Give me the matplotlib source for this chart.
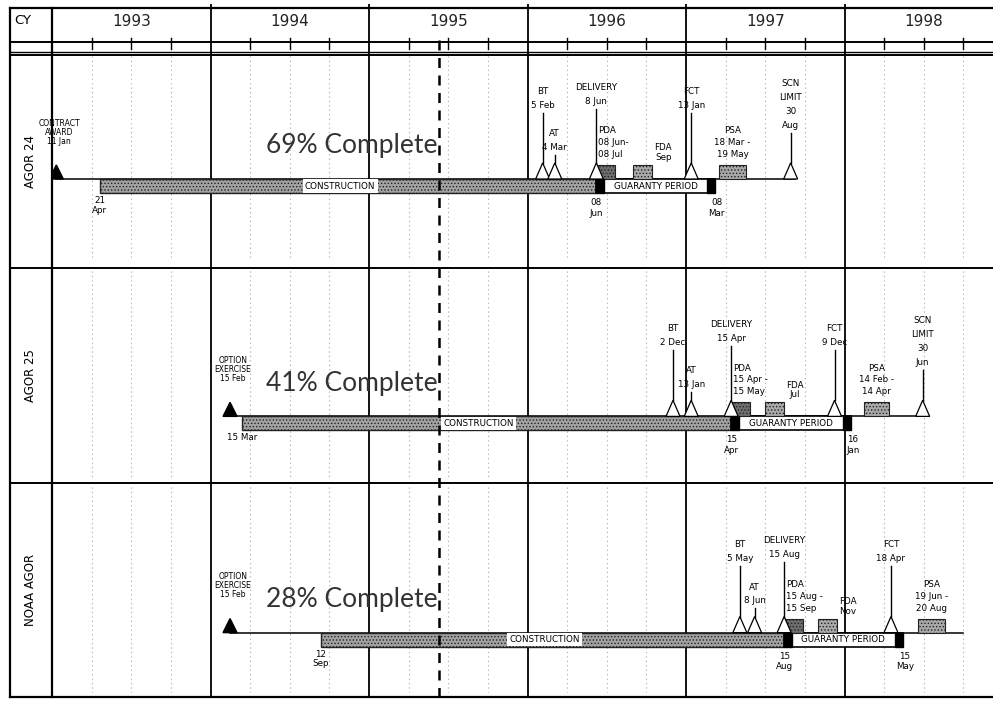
import matplotlib
matplotlib.use("Agg")
import matplotlib.pyplot as plt
import pandas as pd
from matplotlib.patches import Polygon, Rectangle

plt.rcParams['font.family'] = ['DejaVu Sans']
plt.rcParams['hatch.linewidth'] = 0.6

### schedule data
rows = ["AGOR 24", "AGOR 25", "NOAA AGOR"]
years = [1993, 1994, 1995, 1996, 1997, 1998]
pct_complete = [69, 41, 28]
status_date = "1995-06-12"

start_event = ["CONTRACT\nAWARD", "OPTION\nEXERCISE", "OPTION\nEXERCISE"]
start_date = ["1993-01-11", "1994-02-15", "1994-02-15"]
constr_start = ["1993-04-21", "1994-03-15", "1994-09-12"]
constr_start_lbl = ["21\nApr", "15 Mar", "12\nSep"]
delivery = ["1996-06-08", "1997-04-15", "1997-08-15"]
delivery_lbl = ["08\nJun", "15\nApr", "15\nAug"]
guaranty_end = ["1997-03-08", "1998-01-16", "1998-05-15"]
guaranty_end_lbl = ["08\nMar", "16\nJan", "15\nMay"]
line_end = ["1997-09-08", "1998-07-08", "1998-09-30"]

bt = ["1996-02-05", "1996-12-02", "1997-05-05"]
at = ["1996-03-04", "1997-01-13", "1997-06-08"]
fct = ["1997-01-13", "1997-12-09", "1998-04-18"]
scn_limit = ["1997-08-30", "1998-06-30", None]

pda = [("1996-06-08", "1996-07-08"), ("1997-04-15", "1997-05-15"), ("1997-08-15", "1997-09-15")]
pda_lbl = ["PDA\n08 Jun-\n08 Jul", "PDA\n15 Apr -\n15 May", "PDA\n15 Aug -\n15 Sep"]
fda = [("1996-09-01", "1996-09-30"), ("1997-07-01", "1997-07-31"), ("1997-11-01", "1997-11-30")]
fda_lbl = ["FDA\nSep", "FDA\nJul", "FDA\nNov"]
psa = [("1997-03-18", "1997-05-19"), ("1998-02-14", "1998-04-14"), ("1998-06-19", "1998-08-20")]
psa_lbl = ["PSA\n18 Mar -\n19 May", "PSA\n14 Feb -\n14 Apr", "PSA\n19 Jun -\n20 Aug"]

### layout (pixel rows of the page)
row_top = [55, 268, 483]
row_bot = [268, 483, 697]
base = [182, 418, 633]
PX = 1 / 158.5  # years per pixel
SMALL = 6.3


def yr(s):
    t = pd.Timestamp(s)
    n = 366 if t.is_leap_year else 365
    return t.year + (t.dayofyear - 1) / n


def day_mon(s):
    t = pd.Timestamp(s)
    return f"{t.day} {t:%b}"


def milestone(ax, d, yb, name, rise, lbl=None):
    x = yr(d)
    ax.add_patch(Polygon([(x - 7 * PX, yb), (x + 7 * PX, yb), (x, yb - 16)], closed=True,
                         fc='white', ec='black', lw=0.9, zorder=5))
    ax.plot([x, x], [yb - 16, yb - rise], color='black', lw=1.0, zorder=5)
    if lbl is None:
        lbl = f"{name}\n{day_mon(d)}"
    ax.text(x, yb - rise - 3, lbl, ha='center', va='bottom', fontsize=SMALL,
            linespacing=1.7, zorder=6)


def box(ax, span, yb, dark=False):
    x0, x1 = yr(span[0]), yr(span[1])
    w = max(x1 - x0, 19 * PX)
    ax.add_patch(Rectangle((x0, yb - 14), w, 14, fc='#6e6e6e' if dark else '#a9a9a9',
                           ec='#222222', hatch='.....', lw=0.8, zorder=4))
    return x0, x0 + w


fig = plt.figure(figsize=(9.93, 7.01), dpi=100)
bg = fig.add_axes([0, 0, 1, 1])
bg.set_xlim(0, 993)
bg.set_ylim(701, 0)
bg.axis('off')

ax = fig.add_axes([52 / 993, 4 / 701, 941 / 993, 693 / 701])
ax.set_xlim(1993, 1993 + 941 * PX)
ax.set_ylim(697, 8)
ax.axis('off')

### frame
for y, lw in [(8, 1.6), (42, 1.4), (52, 1.0), (55, 1.4), (268, 1.4), (483, 1.4), (697, 1.6)]:
    bg.plot([10, 993], [y, y], color='black', lw=lw)
for x in [10, 52]:
    bg.plot([x, x], [8, 697], color='black', lw=1.6)
bg.text(14, 20, "CY", fontsize=9.5, ha='left', va='center')
for i, r in enumerate(rows):
    bg.text(31, (row_top[i] + row_bot[i]) / 2, r, rotation=90, fontsize=8.5,
            ha='center', va='center')

### header and grid
for y in years:
    if y > 1993:
        ax.plot([y, y], [8, 697], color='black', lw=1.3, zorder=2)
    ax.text(y + 0.5, 25, str(y), fontsize=11, ha='center', va='center', color='#222222')
    for q in (0.25, 0.5, 0.75):
        ax.plot([y + q, y + q], [42, 53], color='black', lw=1.0)
        for i in range(3):
            ax.plot([y + q, y + q], [row_top[i] + 5, row_bot[i] - 5], color='#a8a8a8',
                    lw=0.8, ls=(0, (1, 3)), zorder=1)

sx = yr(status_date)
ax.plot([sx, sx], [44, 697], color='black', lw=1.8, ls=(0, (4, 3)), zorder=7)

### rows
for i in range(3):
    yb = base[i]
    x_start = yr(start_date[i])
    ax.plot([x_start, yr(line_end[i])], [yb, yb], color='black', lw=1.1, zorder=3)
    ax.add_patch(Polygon([(x_start - 7 * PX, yb), (x_start + 7 * PX, yb), (x_start, yb - 14)],
                         closed=True, fc='black', ec='black', zorder=5))
    ax.text(x_start + 3 * PX, yb - 33, f"{start_event[i]}\n{day_mon(start_date[i])}",
            ha='center', va='bottom', fontsize=SMALL - 0.8, linespacing=1.0)

    # construction bar
    cs, de, ge = yr(constr_start[i]), yr(delivery[i]), yr(guaranty_end[i])
    ax.add_patch(Rectangle((cs, yb), de - cs, 14, fc='#a2a2a2', ec='#222222',
                           hatch='.....', lw=1.0, zorder=4))
    ax.text((cs + de) / 2 - 0.05, yb + 7, "CONSTRUCTION", fontsize=SMALL, ha='center',
            va='center', zorder=6,
            bbox=dict(boxstyle='square,pad=0.25', fc='white', ec='none'))
    ax.text(cs, yb + 17, constr_start_lbl[i], fontsize=SMALL, ha='center', va='top',
            linespacing=1.1)

    # guaranty period
    ax.add_patch(Rectangle((de, yb), ge - de, 14, fc='white', ec='black', lw=1.2, zorder=4))
    ax.add_patch(Rectangle((de, yb), 8 * PX, 14, fc='black', ec='black', zorder=5))
    ax.add_patch(Rectangle((ge - 8 * PX, yb), 8 * PX, 14, fc='black', ec='black', zorder=5))
    ax.text((de + ge) / 2, yb + 7, "GUARANTY PERIOD", fontsize=SMALL, ha='center',
            va='center', zorder=6)
    ax.text(de, yb + 19, delivery_lbl[i], fontsize=SMALL, ha='center', va='top',
            linespacing=1.2)
    ax.text(ge + 2 * PX, yb + 19, guaranty_end_lbl[i], fontsize=SMALL, ha='center',
            va='top', linespacing=1.2)

    # milestones
    milestone(ax, bt[i], yb, "BT", 66)
    milestone(ax, at[i], yb, "AT", 24)
    milestone(ax, delivery[i], yb, "DELIVERY", 70)
    milestone(ax, fct[i], yb, "FCT", 66)
    if scn_limit[i] is not None:
        t = pd.Timestamp(scn_limit[i])
        milestone(ax, scn_limit[i], yb, "SCN", 46,
                  lbl=f"SCN\nLIMIT\n{t.day}\n{t:%b}")

    # small activity boxes
    p0, p1 = box(ax, pda[i], yb, dark=True)
    ax.text(p0 + 2 * PX, yb - 20, pda_lbl[i], fontsize=SMALL, ha='left', va='bottom',
            linespacing=1.4)
    f0, f1 = box(ax, fda[i], yb)
    ax.text(f1 + 11 * PX, yb - 17, fda_lbl[i], fontsize=SMALL, ha='center', va='bottom',
            linespacing=1.1)
    q0, q1 = box(ax, psa[i], yb)
    ax.text((q0 + q1) / 2, yb - 20, psa_lbl[i], fontsize=SMALL, ha='center', va='bottom',
            linespacing=1.4)

    # percent complete, right aligned on the status line
    ax.text(sx - 2 * PX, yb - 33, f"{pct_complete[i]}% Complete", fontsize=19,
            ha='right', va='center', color='#333333', family=['Lato', 'DejaVu Sans'])

fig.savefig("out.png", dpi=100)
